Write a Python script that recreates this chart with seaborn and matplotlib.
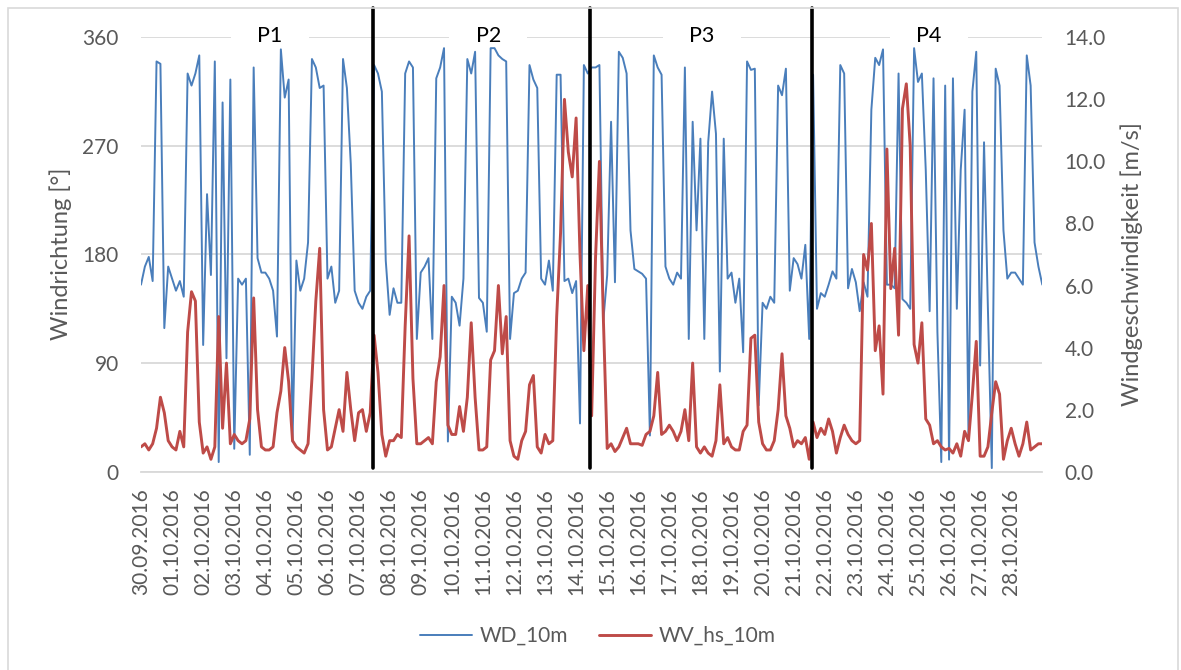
import numpy as np
import pandas as pd
import matplotlib
matplotlib.use("Agg")
import matplotlib.pyplot as plt
import matplotlib.dates as mdates
import matplotlib.transforms as mtransforms
from matplotlib.patches import Rectangle
from matplotlib.lines import Line2D
import seaborn as sns

# ---------------- data (3-hourly readings, 30.09.2016 00:00 .. 29.10.2016 00:00) -------------
start_time = "2016-09-30 00:00"
step = "3h"

wd_10m = [
    155, 170, 178, 158, 340, 338, 119, 170,   # 30.09
    160, 150, 158, 145, 330, 320, 330, 345,   # 01.10
    105, 230, 163, 340, 8, 306, 94, 325,      # 02.10
    19, 160, 155, 160, 14, 335, 177, 165,     # 03.10
    165, 160, 150, 112, 350, 310, 325, 25,    # 04.10
    175, 150, 160, 190, 342, 335, 318, 320,   # 05.10
    160, 170, 140, 150, 342, 318, 255, 150,   # 06.10
    140, 135, 145, 150, 337, 330, 315, 175,   # 07.10
    130, 152, 140, 140, 330, 340, 335, 110,   # 08.10
    165, 170, 177, 110, 326, 335, 351, 25,    # 09.10
    145, 140, 121, 160, 342, 330, 348, 144,   # 10.10
    140, 116, 351, 351, 345, 342, 340, 110,   # 11.10
    148, 150, 160, 165, 337, 325, 318, 160,   # 12.10
    155, 175, 150, 329, 329, 158, 160, 148,   # 13.10
    158, 40, 337, 330, 335, 335, 337, 125,    # 14.10
    163, 290, 157, 348, 343, 330, 200, 168,   # 15.10
    166, 164, 160, 30, 345, 335, 329, 170,    # 16.10
    160, 155, 165, 160, 335, 110, 290, 200,   # 17.10
    276, 110, 273, 315, 280, 83, 276, 160,    # 18.10
    165, 140, 160, 99, 340, 333, 334, 55,     # 19.10
    140, 135, 145, 140, 320, 312, 334, 150,   # 20.10
    177, 172, 160, 188, 110, 329, 135, 148,   # 21.10
    145, 155, 166, 160, 337, 330, 152, 168,   # 22.10
    157, 133, 157, 145, 300, 343, 337, 350,   # 23.10
    155, 155, 152, 330, 143, 140, 135, 351,   # 24.10
    323, 330, 250, 133, 326, 116, 8, 320,     # 25.10
    10, 326, 135, 250, 300, 30, 315, 348,     # 26.10
    88, 273, 135, 3, 334, 320, 200, 160,      # 27.10
    165, 165, 160, 155, 345, 320, 190, 170,   # 28.10
    155,                                      # 29.10 00:00
]

wv_hs_10m = [
    0.8, 0.9, 0.7, 0.9, 1.4, 2.4, 1.9, 1.0,
    0.8, 0.7, 1.3, 0.8, 4.5, 5.8, 5.5, 1.6,
    0.6, 0.8, 0.4, 0.8, 5.0, 1.4, 3.5, 0.9,
    1.2, 1.0, 0.9, 1.0, 1.7, 5.6, 2.0, 0.8,
    0.7, 0.7, 0.8, 1.9, 2.6, 4.0, 2.9, 1.0,
    0.8, 0.7, 0.6, 0.9, 3.0, 5.5, 7.2, 2.0,
    0.7, 0.8, 1.4, 2.0, 1.3, 3.2, 2.0, 1.0,
    1.9, 2.0, 1.3, 1.9, 4.4, 3.2, 1.2, 0.5,
    1.0, 1.0, 1.2, 1.1, 4.7, 7.6, 3.0, 0.9,
    0.9, 1.0, 1.1, 0.9, 2.9, 3.7, 6.0, 1.5,
    1.2, 1.2, 2.1, 1.3, 2.4, 4.8, 2.4, 0.7,
    0.7, 0.8, 3.6, 3.9, 6.0, 3.8, 5.0, 1.0,
    0.5, 0.4, 1.0, 1.3, 2.8, 3.1, 0.8, 0.6,
    1.2, 0.9, 1.0, 5.0, 7.7, 12.0, 10.3, 9.5,
    11.4, 7.0, 3.9, 6.0, 1.8, 6.9, 10.0, 5.0,
    0.75, 0.9, 0.65, 0.8, 1.1, 1.4, 0.9, 0.9,
    0.9, 0.85, 1.2, 1.3, 1.8, 3.2, 1.2, 1.3,
    1.5, 1.3, 1.0, 1.3, 2.0, 1.0, 3.5, 0.8,
    0.6, 0.8, 0.6, 0.5, 1.0, 2.8, 0.9, 1.1,
    0.8, 0.7, 0.7, 1.3, 1.5, 4.3, 4.4, 1.6,
    0.9, 0.7, 0.7, 1.0, 2.0, 3.8, 1.8, 1.4,
    0.8, 1.0, 0.9, 1.1, 0.4, 1.6, 1.1, 1.4,
    1.2, 1.7, 1.3, 0.6, 1.1, 1.5, 1.2, 1.0,
    0.9, 1.0, 7.0, 6.5, 8.0, 3.9, 4.7, 2.5,
    10.4, 5.9, 7.2, 4.4, 11.7, 12.5, 10.5, 4.1,
    3.5, 4.8, 1.7, 1.5, 0.9, 1.0, 0.8, 0.7,
    0.75, 0.6, 0.9, 0.5, 1.3, 1.0, 2.5, 4.2,
    0.5, 0.5, 0.8, 1.9, 2.9, 2.5, 0.4, 1.0,
    1.4, 0.9, 0.5, 0.9, 1.6, 0.7, 0.8, 0.9,
    0.9,
]

series_names = ["WD_10m", "WV_hs_10m"]
left_ticks = [0, 90, 180, 270, 360]
right_ticks = [0, 2, 4, 6, 8, 10, 12, 14]
x_tick_dates = pd.date_range("2016-09-30", "2016-10-29", freq="D")
left_label = "Windrichtung [°]"
right_label = "Windgeschwindigkeit [m/s]"

period_bounds = ["2016-10-07 10:50", "2016-10-14 10:35", "2016-10-21 14:00"]
period_names = ["P1", "P2", "P3", "P4"]
period_name_pos = ["2016-10-04 03:30", "2016-10-11 04:20", "2016-10-18 01:00", "2016-10-25 08:30"]

# ---------------- styling ----------------
BLUE = "#4A7EBB"
RED = "#BE4B48"
GREY_TXT = "#595959"
GRID = "#D9D9D9"

sns.set_theme(style="white")
plt.rcParams["font.family"] = ["Lato", "DejaVu Sans"]

W, H = 1181, 670
fig = plt.figure(figsize=(W / 100, H / 100), dpi=100)
fig.patch.set_facecolor("white")

# outer chart border
fig.patches.append(Rectangle((8 / W, -0.01), (1178 - 8) / W, (670 - 8) / H + 0.01,
                             transform=fig.transFigure, fill=False,
                             edgecolor=GRID, linewidth=1.2))

x0, x1 = 141, 1042.3
y_top, y_bot = 37.3, 471.7
ax = fig.add_axes([x0 / W, (H - y_bot) / H, (x1 - x0) / W, (y_bot - y_top) / H])
ax2 = ax.twinx()

times = pd.date_range(start_time, periods=len(wd_10m), freq=step)
df = pd.DataFrame({"time": times, series_names[0]: wd_10m, series_names[1]: wv_hs_10m})

sns.lineplot(data=df, x="time", y=series_names[0], ax=ax, color=BLUE,
             linewidth=1.4, label=series_names[0], legend=False, zorder=2)
sns.lineplot(data=df, x="time", y=series_names[1], ax=ax2, color=RED,
             linewidth=2.1, label=series_names[1], legend=False, zorder=2)

xmin = pd.Timestamp("2016-09-30")
xmax = pd.Timestamp("2016-10-29")
ax.set_xlim(xmin, xmax)
ax.set_ylim(0, 360)
ax2.set_ylim(0, 14)

ax.set_xticks(x_tick_dates)
ax.set_xticklabels([d.strftime("%d.%m.%Y") for d in x_tick_dates[:-1]] + [""],
                   rotation=90, ha="center", va="top")
ax.set_yticks(left_ticks)
ax.set_yticklabels([str(v) for v in left_ticks])
ax2.set_yticks(right_ticks)
ax2.set_yticklabels([f"{v:.1f}" for v in right_ticks])

ax.tick_params(axis="x", direction="out", length=4.8, width=1.0, color=GRID,
               labelsize=15, labelcolor=GREY_TXT, pad=7)
ax.tick_params(axis="y", length=0, labelsize=15, labelcolor=GREY_TXT, pad=16)
ax2.tick_params(axis="y", length=0, labelsize=15, labelcolor=GREY_TXT, pad=16)

ax.set_xlabel("")
ax.set_ylabel("")
ax2.set_ylabel("")

ax.yaxis.grid(True, color=GRID, linewidth=1.3)
ax.xaxis.grid(False)
ax.set_axisbelow(True)
for s in ["top", "left", "right"]:
    ax.spines[s].set_visible(False)
ax.spines["bottom"].set_color(GRID)
ax.spines["bottom"].set_linewidth(1.3)
for s in ax2.spines.values():
    s.set_visible(False)

fig.text(61 / W, 1 - 254 / H, left_label, rotation=90, ha="center", va="center",
         fontsize=17, color=GREY_TXT)
fig.text(1132 / W, 1 - 264 / H, right_label, rotation=90, ha="center", va="center",
         fontsize=17, color=GREY_TXT)

# period separators and names
trans = mtransforms.blended_transform_factory(ax2.transData, ax2.transAxes)
for b in period_bounds:
    xb = mdates.date2num(pd.Timestamp(b))
    ax2.add_line(Line2D([xb, xb], [0.0085, 1.0675], transform=trans, color="black",
                        linewidth=2.6, clip_on=False, zorder=10))

box_w = 78 / (x1 - x0) * (mdates.date2num(xmax) - mdates.date2num(xmin))
for name, pos in zip(period_names, period_name_pos):
    xp = mdates.date2num(pd.Timestamp(pos))
    ax.add_patch(Rectangle((xp - box_w / 2, 0.98), box_w, 0.045, transform=
                           mtransforms.blended_transform_factory(ax.transData, ax.transAxes),
                           facecolor="white", edgecolor="none", clip_on=False, zorder=1.5))
    ax2.text(xp, (y_bot - 36) / (y_bot - y_top), name, transform=trans, ha="center",
             va="center", fontsize=15.5, color="black", zorder=11)

handles = [ax.lines[0], ax2.lines[0]]
fig.legend(handles, series_names, loc="center", bbox_to_anchor=(598 / W, 1 - 636 / H),
           ncol=2, frameon=False, fontsize=15, handlelength=2.5, handletextpad=0.35,
           columnspacing=1.5, labelcolor=GREY_TXT)

fig.savefig("out.png", dpi=100, facecolor="white")
